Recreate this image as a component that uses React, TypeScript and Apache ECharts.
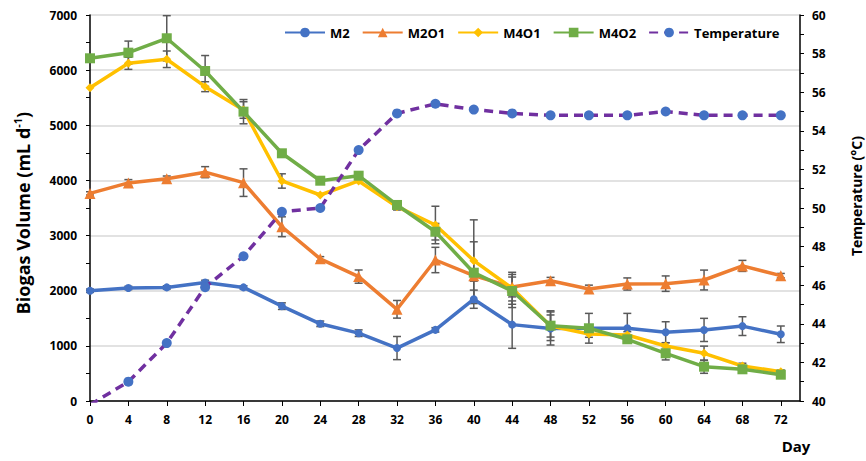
import React, { useEffect, useRef } from "react";
import * as echarts from "echarts";

const days = [0, 4, 8, 12, 16, 20, 24, 28, 32, 36, 40, 44, 48, 52, 56, 60, 64, 68, 72];

const m2 = [2000, 2050, 2060, 2150, 2060, 1720, 1400, 1230, 960, 1290, 1846, 1385, 1315, 1319, 1319, 1247, 1289, 1358, 1210];
const m2Err = [30, 30, 30, 40, 30, 60, 50, 60, 210, 40, 165, 430, 300, 270, 270, 190, 210, 170, 150];

const m2o1 = [3765, 3955, 4030, 4150, 3960, 3160, 2578, 2256, 1663, 2557, 2273, 2068, 2182, 2031, 2122, 2128, 2194, 2450, 2273];
const m2o1Err = [30, 60, 50, 100, 250, 180, 40, 120, 160, 230, 100, 180, 60, 70, 110, 140, 180, 100, 40];

const m4o1 = [5682, 6124, 6197, 5700, 5277, 3990, 3736, 3990, 3524, 3192, 2545, 2044, 1360, 1215, 1197, 997, 865, 635, 532];
const m4o1Err = [0, 110, 150, 90, 150, 130, 0, 0, 60, 340, 740, 290, 200, 60, 60, 60, 130, 50, 30];

const m4o2 = [6215, 6317, 6578, 5985, 5247, 4492, 3995, 4086, 3555, 3070, 2327, 1995, 1366, 1319, 1119, 865, 622, 575, 477];
const m4o2Err = [0, 210, 410, 280, 220, 0, 0, 0, 50, 150, 560, 300, 270, 60, 60, 120, 120, 60, 40];

const temperature = [39.8, 41.0, 43.0, 45.9, 47.5, 49.8, 50.0, 53.0, 54.9, 55.4, 55.1, 54.9, 54.8, 54.8, 54.8, 55.0, 54.8, 54.8, 54.8];

const yTicks = [0, 1000, 2000, 3000, 4000, 5000, 6000, 7000];

const FONT = "Open Sans";

function errorBars(values: number[], errs: number[]) {
  return {
    type: "custom",
    xAxisIndex: 0,
    yAxisIndex: 0,
    silent: true,
    z: 1,
    data: days.map((d, i) => [d, values[i] - errs[i], values[i] + errs[i], errs[i]]),
    renderItem: (params: any, api: any) => {
      if (api.value(3) <= 0) return null;
      const x = api.value(0);
      const top = api.coord([x, api.value(2)]);
      const bot = api.coord([x, api.value(1)]);
      const w = 4;
      const st = { stroke: "#595959", lineWidth: 1.5 };
      return {
        type: "group",
        children: [
          { type: "line", shape: { x1: top[0], y1: top[1], x2: bot[0], y2: bot[1] }, style: st },
          { type: "line", shape: { x1: top[0] - w, y1: top[1], x2: top[0] + w, y2: top[1] }, style: st },
          { type: "line", shape: { x1: bot[0] - w, y1: bot[1], x2: bot[0] + w, y2: bot[1] }, style: st },
        ],
      };
    },
  };
}

function lineSeries(name: string, values: number[], color: string, symbol: string, size: number) {
  return {
    name,
    type: "line",
    xAxisIndex: 0,
    yAxisIndex: 0,
    data: days.map((d, i) => [d, values[i]]),
    symbol,
    symbolSize: size,
    showAllSymbol: true,
    z: 3,
    lineStyle: { color, width: 3.5 },
    itemStyle: { color },
  };
}

export default function App() {
  const ref = useRef<HTMLDivElement>(null);
  useEffect(() => {
    if (!ref.current) return;
    const chart = echarts.init(ref.current, undefined, { renderer: "svg" });
    const labelStyle = { color: "#000", fontFamily: FONT, fontWeight: "bold" as const, fontSize: 12 };
    chart.setOption({
      animation: false,
      backgroundColor: "#fff",
      grid: { left: 90, right: 66, top: 15, bottom: 60 },
      legend: {
        data: ["M2", "M2O1", "M4O1", "M4O2", "Temperature"],
        left: 279,
        top: 21,
        itemWidth: 40,
        itemHeight: 12,
        itemGap: 12,
        textStyle: { color: "#000", fontFamily: FONT, fontWeight: "bold", fontSize: 13 },
      },
      xAxis: {
        type: "value",
        min: 0,
        max: 74,
        interval: 4,
        axisLine: { show: true, lineStyle: { color: "#000", width: 1.5 } },
        axisTick: { show: true, length: 5, lineStyle: { color: "#000" } },
        axisLabel: { ...labelStyle, margin: 12, showMaxLabel: false },
        splitLine: { show: false },
      },
      yAxis: [
        {
          type: "value",
          min: yTicks[0],
          max: yTicks[yTicks.length - 1],
          interval: 1000,
          axisLine: { show: true, lineStyle: { color: "#000", width: 1.5 } },
          axisTick: { show: true, length: 4, lineStyle: { color: "#000" } },
          minorTick: { show: true, splitNumber: 2, length: 4, lineStyle: { color: "#000" } },
          axisLabel: { ...labelStyle, margin: 13, formatter: (v: number) => String(v) },
          splitLine: { show: true, lineStyle: { color: "#D9D9D9", width: 1.5 } },
        },
        {
          type: "value",
          min: 40,
          max: 60,
          interval: 2,
          position: "right",
          axisLine: { show: true, lineStyle: { color: "#000", width: 1.5 } },
          axisTick: { show: true, length: 4, lineStyle: { color: "#000" } },
          minorTick: { show: true, splitNumber: 2, length: 4, lineStyle: { color: "#000" } },
          axisLabel: { ...labelStyle, margin: 12, formatter: (v: number) => String(v) },
          splitLine: { show: false },
        },
      ],
      graphic: [
        {
          type: "text",
          x: 23,
          y: 213,
          rotation: Math.PI / 2,
          style: {
            text: "{a|Biogas Volume (mL d}{s|-1}{a|)}",
            align: "center",
            verticalAlign: "middle",
            fill: "#000",
            rich: {
              a: { fontFamily: FONT, fontWeight: "bold", fontSize: 18, lineHeight: 22, fill: "#000" },
              s: { fontFamily: FONT, fontWeight: "bold", fontSize: 11, lineHeight: 22, verticalAlign: "top", fill: "#000" },
            },
          },
        },
        {
          type: "text",
          x: 856,
          y: 196,
          rotation: Math.PI / 2,
          style: {
            text: "Temperature (°C)",
            align: "center",
            verticalAlign: "middle",
            fill: "#000",
            fontFamily: FONT,
            fontWeight: "bold",
            fontSize: 14,
          },
        },
        {
          type: "text",
          x: 796,
          y: 446,
          style: {
            text: "Day",
            align: "center",
            verticalAlign: "middle",
            fill: "#000",
            fontFamily: FONT,
            fontWeight: "bold",
            fontSize: 15,
          },
        },
      ],
      series: [
        errorBars(m2, m2Err),
        errorBars(m2o1, m2o1Err),
        errorBars(m4o1, m4o1Err),
        errorBars(m4o2, m4o2Err),
        lineSeries("M2", m2, "#4472C4", "circle", 8),
        lineSeries("M2O1", m2o1, "#ED7D31", "triangle", 11),
        lineSeries("M4O1", m4o1, "#FFC000", "diamond", 9),
        lineSeries("M4O2", m4o2, "#70AD47", "rect", 10),
        {
          name: "Temperature",
          type: "line",
          xAxisIndex: 0,
          yAxisIndex: 1,
          data: days.map((d, i) => [d, temperature[i]]),
          symbol: "circle",
          symbolSize: 10,
          showAllSymbol: true,
          z: 4,
          lineStyle: { color: "#7030A0", width: 3.5, type: [9, 6] },
          itemStyle: { color: "#4472C4" },
        },
      ],
    });
    return () => chart.dispose();
  }, []);
  return <div ref={ref} style={{ position: "fixed", left: 0, top: 0, width: 866, height: 461 }} />;
}
